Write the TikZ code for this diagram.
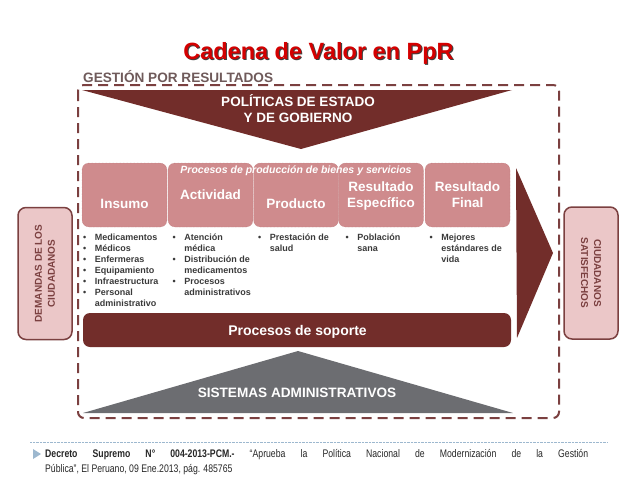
\documentclass[tikz,border=0pt]{standalone}
\usepackage{fontspec}
\setmainfont{Liberation Sans}
\newfontfamily\notafont[FakeStretch=0.79]{Liberation Sans}

\definecolor{vino}{HTML}{722D2A}
\definecolor{rosa}{HTML}{CF8B8D}
\definecolor{rosaborde}{HTML}{B06A6C}
\definecolor{rosaclaro}{HTML}{EBC7C8}
\definecolor{marco}{HTML}{7B4040}
\definecolor{gris}{HTML}{6C6D71}
\definecolor{texto}{HTML}{3A3A3A}
\definecolor{rojo}{HTML}{D40000}
\definecolor{gestion}{HTML}{6F5A5A}
\definecolor{celeste}{HTML}{9DB8CF}

\tikzset{
    enlinea/.style={anchor=base, inner sep=0pt},
    etapa/.style={draw=rosaborde, densely dotted, fill=rosa, rounded corners=7pt,
        minimum width=85pt, minimum height=64pt, inner sep=0pt},
    titulo/.style={enlinea, text=white, font=\bfseries\fontsize{13.5}{16}\selectfont},
    lista/.style={anchor=base west, inner sep=0pt, text=texto,
        font=\bfseries\fontsize{9}{11}\selectfont},
    lado/.style={draw=marco, line width=1.5pt, fill=rosaclaro, rounded corners=8pt,
        minimum width=54pt, minimum height=132pt, inner sep=0pt},
    ladotexto/.style={inner sep=0pt, text=marco, align=center,
        font=\bfseries\fontsize{10}{13}\selectfont},
}

\begin{document}
\begin{tikzpicture}[x=1pt,y=-1pt]
    \useasboundingbox (0,0) rectangle (638,479);

    % titulo
    \node[enlinea, text=black!75, font=\bfseries\fontsize{23.5}{27}\selectfont]
        (sombra) at (319.6,60.6) {Cadena de Valor en PpR};
    \node[enlinea, text=rojo, font=\bfseries\fontsize{23.5}{27}\selectfont]
        (cadena) at (318.5,59.5) {Cadena de Valor en PpR};

    % marco
    \node[anchor=base west, inner sep=0pt, text=gestion, font=\bfseries\fontsize{13.6}{16}\selectfont]
        (gpr) at (83,82) {GESTIÓN POR RESULTADOS};
    \draw[marco, line width=2pt, dash pattern=on 10pt off 6pt, rounded corners=6pt]
        (78,85) rectangle (559,418);

    % politicas
    \fill[vino] (82,90) -- (512,90) -- (301,149) -- cycle;
    \node[titulo] (politicas) at (298,106)
        {\begin{tabular}[t]{@{}c@{}}POLÍTICAS DE ESTADO\\Y DE GOBIERNO\end{tabular}};

    % etapas
    \node[etapa] (insumo) at (124.5,195) {};
    \node[etapa] (actividad) at (210.5,195) {};
    \node[etapa] (producto) at (296,195) {};
    \node[etapa] (especifico) at (381,195) {};
    \node[etapa] (final) at (467.5,195) {};

    \node[enlinea, text=white, font=\bfseries\itshape\fontsize{10.5}{12}\selectfont]
        (procesos) at (296,173) {Procesos de producción de bienes y servicios};

    \node[titulo] (t_insumo) at (124.5,208) {Insumo};
    \node[titulo] (t_actividad) at (210.5,199) {Actividad};
    \node[titulo] (t_producto) at (296,208) {Producto};
    \node[titulo] (t_especifico) at (381,191)
        {\begin{tabular}[t]{@{}c@{}}Resultado\\Específico\end{tabular}};
    \node[titulo] (t_final) at (467.5,191)
        {\begin{tabular}[t]{@{}c@{}}Resultado\\Final\end{tabular}};

    % listas
    \node[lista] (l_insumo) at (83,240.5) {\begin{tabular}[t]{@{}l@{\hspace{8.5pt}}l@{}}
        \textbullet & Medicamentos\\ \textbullet & Médicos\\ \textbullet & Enfermeras\\
        \textbullet & Equipamiento\\ \textbullet & Infraestructura\\
        \textbullet & Personal\\ & administrativo\end{tabular}};
    \node[lista] (l_actividad) at (172.5,240.5) {\begin{tabular}[t]{@{}l@{\hspace{8.5pt}}l@{}}
        \textbullet & Atención\\ & médica\\ \textbullet & Distribución de\\
        & medicamentos\\ \textbullet & Procesos\\ & administrativos\end{tabular}};
    \node[lista] (l_producto) at (258,240.5) {\begin{tabular}[t]{@{}l@{\hspace{8.5pt}}l@{}}
        \textbullet & Prestación de\\ & salud\end{tabular}};
    \node[lista] (l_especifico) at (345.5,240.5) {\begin{tabular}[t]{@{}l@{\hspace{8.5pt}}l@{}}
        \textbullet & Población\\ & sana\end{tabular}};
    \node[lista] (l_final) at (429.5,240.5) {\begin{tabular}[t]{@{}l@{\hspace{8.5pt}}l@{}}
        \textbullet & Mejores\\ & estándares de\\ & vida\end{tabular}};

    % flecha
    \fill[vino] (516,168) -- (553,253) -- (517,338) -- cycle;

    % soporte
    \fill[vino, rounded corners=7pt] (83,313) rectangle (511,347);
    \node[titulo, font=\bfseries\fontsize{14}{16}\selectfont] (soporte) at (297.5,335)
        {Procesos de soporte};

    % sistemas
    \fill[gris] (83,413) -- (298,351) -- (513,413) -- cycle;
    \node[titulo, font=\bfseries\fontsize{13.6}{16}\selectfont] (sistemas) at (297,397)
        {SISTEMAS ADMINISTRATIVOS};

    % lados
    \node[lado] (demandas) at (45,273.5) {};
    \node[ladotexto, rotate=90] (t_demandas) at (45,273.5)
        {DEMANDAS DE LOS\\CIUDADANOS};
    \node[lado] (satisfechos) at (591,273) {};
    \node[ladotexto, rotate=-90] (t_satisfechos) at (591,273)
        {CIUDADANOS\\SATISFECHOS};

    % nota
    \draw[celeste, densely dotted] (30,442) -- (607,442);
    \fill[celeste] (33,449) -- (41,454) -- (33,459) -- cycle;
    \node[anchor=base west, inner sep=0pt, text=black!85, font=\notafont\fontsize{11}{15}\selectfont]
        (decreto) at (45,457) {\begin{tabular}[t]{@{}l@{}}
        \makebox[543pt][s]{\textbf{Decreto Supremo N° 004-2013-PCM.-} “Aprueba la Política Nacional de Modernización de la Gestión}\\
        Pública”, El Peruano, 09 Ene.2013, pág. 485765\end{tabular}};
\end{tikzpicture}
\end{document}
